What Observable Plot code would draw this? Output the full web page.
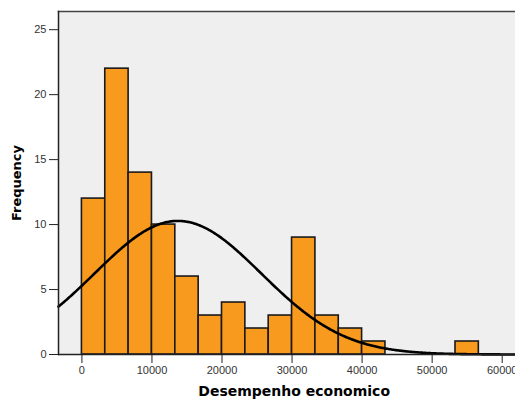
<!DOCTYPE html>
<html>
<head>
<meta charset="utf-8">
<script src="https://cdn.jsdelivr.net/npm/d3@7"></script>
<script src="https://cdn.jsdelivr.net/npm/@observablehq/plot@0.6"></script>
<style>
  html, body { margin: 0; padding: 0; background: #fff; }
  #chart svg { display: block; }
</style>
</head>
<body>
<div id="chart"></div>
<script>
// Histogram of "Desempenho economico" with a fitted normal curve
const binWidth = 10000 / 3;
const binStarts = [0, 1, 2, 3, 4, 5, 6, 7, 8, 9, 10, 11, 12, 16].map(i => i * binWidth);
const counts = [12, 22, 14, 10, 6, 3, 4, 2, 3, 9, 3, 2, 1, 1];
const xTicks = [0, 10000, 20000, 30000, 40000, 50000, 60000];
const yTicks = [0, 5, 10, 15, 20, 25];
const fitMean = 13700;
const fitSd = 11900;

const xDomain = [-3343, 61900];
const yDomain = [0, 26.4];

const bins = binStarts.map((x0, i) => ({x0, x1: x0 + binWidth, count: counts[i]}));
const total = d3.sum(counts);

// normal density scaled to histogram counts
const curve = d3.range(xDomain[0], xDomain[1] + 1, 150).map(x => ({
  x,
  y: total * binWidth * Math.exp(-((x - fitMean) ** 2) / (2 * fitSd ** 2)) / (fitSd * Math.sqrt(2 * Math.PI))
}));

const chart = Plot.plot({
  width: 515,
  height: 400,
  marginLeft: 58,
  marginRight: 0,
  marginTop: 11,
  marginBottom: 46,
  style: {fontFamily: "'Liberation Sans', Arial, sans-serif", fontSize: "11px", color: "#333", background: "#fff"},
  x: {domain: xDomain},
  y: {domain: yDomain},
  marks: [
    Plot.frame({fill: "#efefef", stroke: null}),
    Plot.rectY(bins, {x1: "x0", x2: "x1", y: "count", fill: "#f89a1e", stroke: "#1a1a1a", strokeWidth: 1.6}),
    Plot.line(curve, {x: "x", y: "y", stroke: "#000", strokeWidth: 2.6}),
    Plot.ruleY([0], {stroke: "#222", strokeWidth: 1.5}),
    Plot.frame({anchor: "top", stroke: "#444", strokeWidth: 1.5}),
    Plot.frame({anchor: "left", stroke: "#222", strokeWidth: 1.5}),
    Plot.axisX({ticks: xTicks, tickSize: 9, tickPadding: 3, tickFormat: d => String(d), label: null, stroke: "#222"}),
    Plot.axisY({ticks: yTicks, tickSize: 9, tickPadding: 3, label: null, stroke: "#222"}),
    Plot.text(["Desempenho economico"], {frameAnchor: "bottom", x: () => 30300, dy: 41, text: d => d, fontFamily: "'DejaVu Sans', sans-serif", fontWeight: "bold", fontSize: 14, letterSpacing: "0.3px", fill: "#000"}),
    Plot.text(["Frequency"], {frameAnchor: "left", dx: -42, rotate: -90, textAnchor: "middle", text: d => d, fontFamily: "'DejaVu Sans', sans-serif", fontWeight: "bold", fontSize: 13, fill: "#000"})
  ]
});
document.getElementById("chart").append(chart);
</script>
</body>
</html>
